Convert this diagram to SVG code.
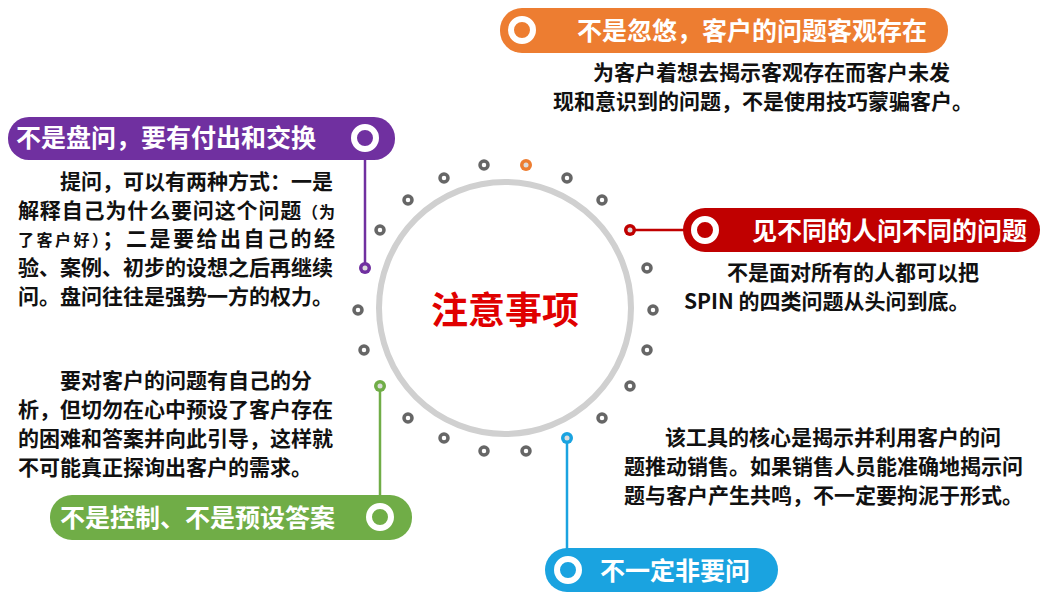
<svg xmlns="http://www.w3.org/2000/svg" width="1048" height="604" viewBox="0 0 1048 604">
<style>
text{font-family:"Noto Sans CJK SC","Noto Sans",sans-serif;font-weight:bold}
.t{fill:#fff;font-size:25px}
.b{fill:#111;font-size:21px}
.d{fill:#fff;stroke:#666;stroke-width:3.5}
</style>
<rect width="1048" height="604" fill="#fff"/>
<circle cx="505" cy="308" r="126" fill="none" stroke="#d0d0d0" stroke-width="6"/>
<g id="connectors" stroke-width="2.5">
<line x1="365" y1="160" x2="365" y2="268" stroke="#7030A0"/>
<line x1="630" y1="230" x2="684" y2="230" stroke="#C00000"/>
<line x1="380" y1="386" x2="380" y2="496" stroke="#70AD47"/>
<line x1="567" y1="438" x2="567" y2="549" stroke="#1AA3E0"/>
</g>
<g id="dots">
<circle class="d" cx="484" cy="165" r="4"/>
<circle class="d" cx="567" cy="178" r="4"/>
<circle class="d" cx="602" cy="200" r="4"/>
<circle class="d" cx="647" cy="268" r="4"/>
<circle class="d" cx="653" cy="310" r="4"/>
<circle class="d" cx="647" cy="350" r="4"/>
<circle class="d" cx="630" cy="386" r="4"/>
<circle class="d" cx="602" cy="418" r="4"/>
<circle class="d" cx="526" cy="451" r="4"/>
<circle class="d" cx="484" cy="451" r="4"/>
<circle class="d" cx="444" cy="438" r="4"/>
<circle class="d" cx="408" cy="418" r="4"/>
<circle class="d" cx="364" cy="350" r="4"/>
<circle class="d" cx="358" cy="310" r="4"/>
<circle class="d" cx="380" cy="230" r="4"/>
<circle class="d" cx="408" cy="200" r="4"/>
<circle class="d" cx="444" cy="178" r="4"/>
<circle cx="526" cy="165" r="6" fill="#ED7D31"/><circle cx="526" cy="165" r="2.5" fill="#ddd"/>
<circle cx="630" cy="230" r="6" fill="#C00000"/><circle cx="630" cy="230" r="2.5" fill="#ddd"/>
<circle cx="365" cy="268" r="6" fill="#7030A0"/><circle cx="365" cy="268" r="2.5" fill="#ddd"/>
<circle cx="380" cy="386" r="6" fill="#70AD47"/><circle cx="380" cy="386" r="2.5" fill="#ddd"/>
<circle cx="567" cy="438" r="6" fill="#1AA3E0"/><circle cx="567" cy="438" r="2.5" fill="#ddd"/>
</g>
<g id="center"><text x="505" y="324" text-anchor="middle" font-size="37" fill="#E00000">注意事项</text></g>
<g id="n-orange">
<rect x="500" y="8" width="448" height="45" rx="22" fill="#ED7D31"/>
<circle cx="522" cy="30" r="11" fill="none" stroke="#fff" stroke-width="6"/>
<text class="t" x="577" y="40">不是忽悠，客户的问题客观存在</text>
<text class="b" x="593" y="80">为客户着想去揭示客观存在而客户未发</text>
<text class="b" x="553" y="109">现和意识到的问题，不是使用技巧蒙骗客户。</text>
</g>
<g id="n-purple">
<rect x="8" y="117" width="387" height="43" rx="21" fill="#7030A0"/>
<circle cx="365" cy="138" r="11" fill="none" stroke="#fff" stroke-width="6"/>
<text class="t" x="16" y="147">不是盘问，要有付出和交换</text>
<text class="b" x="60" y="189">提问，可以有两种方式：一是</text>
<text class="b" x="18" y="218" textLength="317">解释自己为什么要问这个问题<tspan font-size="16">（为</tspan></text>
<text class="b" x="18" y="246" textLength="317"><tspan font-size="16">了客户好）</tspan>；二是要给出自己的经</text>
<text class="b" x="18" y="275">验、案例、初步的设想之后再继续</text>
<text class="b" x="18" y="304">问。盘问往往是强势一方的权力。</text>
</g>
<g id="n-red">
<rect x="683" y="208" width="357" height="44" rx="22" fill="#C00000"/>
<circle cx="705" cy="230" r="11" fill="none" stroke="#fff" stroke-width="6"/>
<text class="t" x="752" y="240">见不同的人问不同的问题</text>
<text class="b" x="727" y="280">不是面对所有的人都可以把</text>
<text class="b" x="684" y="309">SPIN 的四类问题从头问到底。</text>
</g>
<g id="n-green">
<rect x="50" y="495" width="362" height="45" rx="22" fill="#70AD47"/>
<circle cx="380" cy="517" r="11" fill="none" stroke="#fff" stroke-width="6"/>
<text class="t" x="60" y="527">不是控制、不是预设答案</text>
<text class="b" x="60" y="388">要对客户的问题有自己的分</text>
<text class="b" x="18" y="417">析，但切勿在心中预设了客户存在</text>
<text class="b" x="18" y="446">的困难和答案并向此引导，这样就</text>
<text class="b" x="18" y="475">不可能真正探询出客户的需求。</text>
</g>
<g id="n-blue">
<rect x="545" y="548" width="233" height="44" rx="22" fill="#1AA3E0"/>
<circle cx="568" cy="570" r="11" fill="none" stroke="#fff" stroke-width="6"/>
<text class="t" x="600" y="580">不一定非要问</text>
<text class="b" x="665" y="445">该工具的核心是揭示并利用客户的问</text>
<text class="b" x="624" y="474">题推动销售。如果销售人员能准确地揭示问</text>
<text class="b" x="624" y="503">题与客户产生共鸣，不一定要拘泥于形式。</text>
</g>
</svg>
